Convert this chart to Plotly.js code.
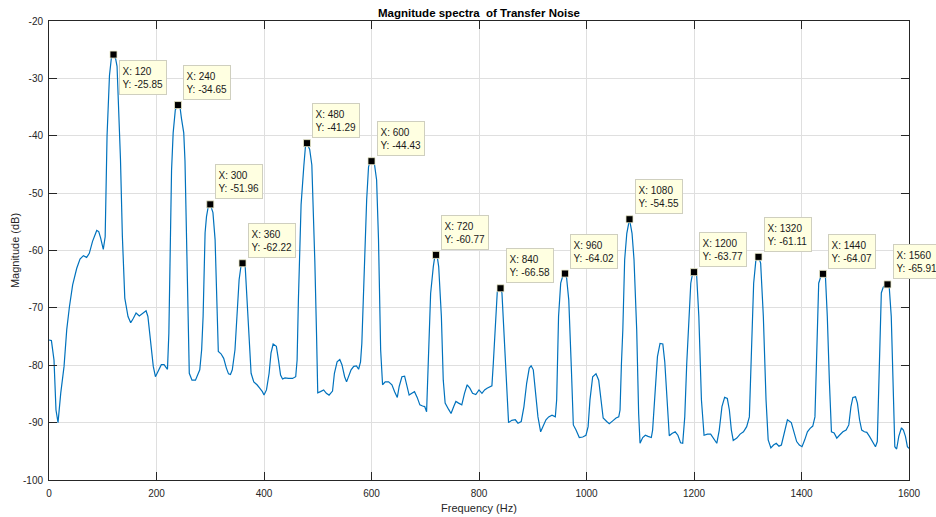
<!DOCTYPE html>
<html>
<head>
<meta charset="utf-8">
<script src="https://cdn.plot.ly/plotly-3.0.1.min.js"></script>
<style>html,body{margin:0;padding:0;background:#fff;}#chart{width:936px;height:517px;}</style>
</head>
<body>
<div id="chart"></div>
<script>
// Spectrum trace (frequency in Hz, magnitude in dB)
const freq = [0,4.5,9.3,13,16.8,21.8,28,33,38,44,51.6,57.7,64,70,75,81,88.8,92.5,96,101,104.5,108,112.5,116,120,124,126.6,129,133,136.5,141,147,152,157,162,168,175.7,180.6,184,189,194,198,203,209,214,220.4,223,226,228,231,235,240,244,246.5,250.7,253,255.5,258.7,261,266,272.5,280.5,284,286.7,289,290.4,293,296,300,305,309,312.7,315,320,325,330,334,337.6,341,346,350,353.7,357,360,365,368.6,372,376,381,387,392,397,400,404.6,409.5,413,417,423,427,430.8,434.5,439,445.6,453,459,461.6,464,466.7,469,474,477,480,485,489,492.7,494.6,497.7,500,505,511,516,521,527.5,531,536,541,545,550,553.6,557,562,567,572,576,579.6,582,584.6,588,591,594.5,597,600,603,605.7,609.5,613,614.5,617,620.6,625.5,631.8,638,643,648,651.5,656.6,661.6,665,670,675,680,685,690,695,699,702.5,705,707.4,710,715,717.5,720,722.5,725,730,733.5,737,743.5,748,753,757,762,768,773,778,783,788,794,800,805.5,810.4,815,820,824,826.6,830,834,837,840,842.7,846.4,851.5,855,861,867.5,872.5,878.6,883.6,888.7,893.5,897,901,904.7,909.7,914.7,919.6,924.6,929.6,935.8,942,944.5,948,952,956,960,963,967,971.7,975.5,980.5,986.6,993,999,1003,1006.5,1011.5,1017.7,1022.7,1026.4,1031,1037.6,1042.4,1048.8,1055,1060,1062.4,1065,1067.6,1071,1075,1080,1084.7,1088.4,1093.4,1097,1099.6,1104.6,1109.5,1114.5,1120.6,1123,1127,1132,1136.8,1142,1145.6,1149,1154,1159,1165,1170,1175,1179,1182.8,1186.5,1190,1194,1197,1200,1203,1205,1209,1213.8,1218.7,1225,1231,1237.4,1242.4,1247,1252,1257,1262,1265.8,1269.5,1273,1279.6,1285.8,1292,1298,1303,1307,1311,1315,1320,1324,1329,1334,1338,1343,1348,1353,1358,1362.6,1367.6,1373.8,1381,1386,1391,1396,1401,1406,1411,1416,1421,1425,1428.5,1432,1436,1440,1444.5,1448,1452,1455.7,1460.7,1465.7,1470.6,1477,1483,1488,1492,1495.6,1500.5,1504,1508,1512,1517,1521.5,1526.5,1533,1537.6,1541,1545,1548.5,1552,1556,1560,1563.4,1567,1571,1573.6,1577,1581,1586,1589.6,1593.4,1597,1600];
const mag = [-75.6,-75.7,-79.1,-87.8,-90.0,-84.9,-80.2,-73.8,-69.8,-66.0,-63.1,-61.5,-60.9,-61.2,-60.5,-58.4,-56.5,-56.7,-57.8,-59.8,-57.6,-40,-29.5,-26.5,-25.85,-26.6,-27.9,-33.7,-44.2,-57.5,-68.3,-71.5,-72.6,-71.8,-70.9,-71.4,-70.9,-70.5,-71.5,-75.6,-80.2,-82.0,-81.1,-79.9,-79.9,-80.7,-74.4,-60,-46,-39.5,-35.5,-34.65,-35.2,-37,-39.5,-44.4,-55,-68.6,-81.4,-82.6,-82.6,-80.8,-77.3,-71.5,-62.8,-56.9,-54.1,-52.5,-51.96,-53.4,-58.1,-68.6,-77.6,-78.0,-78.8,-80.5,-81.5,-81.6,-80.8,-77.3,-71.5,-65.1,-62.8,-62.22,-62.8,-68.6,-76.2,-81.4,-82.9,-83.4,-84.0,-84.6,-85.2,-84.3,-81.4,-77.9,-76.3,-76.7,-79.1,-81.7,-82.4,-82.2,-82.3,-82.3,-82.0,-79.1,-68.6,-59.9,-52,-45.4,-42,-41.29,-42.4,-45.1,-55,-62,-74.4,-84.8,-84.6,-84.3,-84.9,-85.2,-84.5,-81.4,-79.4,-79.0,-79.9,-82.0,-82.9,-82.0,-80.8,-80.2,-80.1,-80.7,-79.4,-76.2,-68.6,-60.5,-51.2,-45.4,-44.6,-44.43,-44.6,-45.1,-47.7,-58,-68.6,-77.3,-83.4,-82.9,-82.9,-83.4,-84.6,-85.6,-83.7,-82.0,-81.9,-83.1,-85.2,-84.9,-84.6,-85.6,-86.9,-87.1,-87.2,-88.1,-80.2,-71.5,-67.5,-62.8,-61.2,-60.77,-61.2,-62.8,-71.5,-82.6,-86.6,-87.7,-88.4,-87.2,-86.3,-86.6,-86.9,-84.9,-83.4,-84.0,-84.9,-85.1,-84.3,-84.9,-84.3,-84.0,-83.7,-83.6,-79.7,-72.7,-67.2,-66.7,-66.58,-67.4,-74.4,-83.1,-90.0,-89.6,-89.5,-90.1,-89.8,-87.2,-83.1,-80.5,-80.1,-80.8,-84.3,-89.0,-91.6,-90.7,-89.5,-89.0,-88.7,-89.0,-86.0,-71.5,-65.7,-64.4,-64.02,-64.8,-68.6,-80.2,-90.4,-91.3,-92.6,-92.5,-92.2,-90.7,-86.0,-82.0,-81.5,-82.6,-86.0,-89.2,-89.8,-90.2,-89.7,-89.2,-89.0,-87.8,-79.7,-73.8,-61.6,-57.0,-54.55,-57.0,-61.6,-73.8,-88.4,-93.6,-92.6,-92.2,-92.4,-92.6,-91.3,-85.5,-78.5,-76.2,-76.3,-79.4,-85.5,-92.3,-91.9,-91.6,-92.2,-93.5,-93.6,-89.0,-79.7,-73.8,-65.7,-64.2,-63.77,-64.1,-64.5,-71.5,-86.0,-92.2,-92.0,-92.0,-93.0,-93.6,-91.3,-87.2,-85.6,-85.8,-87.8,-91.3,-93.1,-92.7,-92.0,-91.6,-90.7,-89.0,-77.3,-65.7,-61.8,-61.11,-62.2,-71.5,-86.0,-93.0,-94.4,-93.9,-93.6,-94.1,-93.9,-91.9,-89.5,-90.0,-91.6,-93.3,-93.9,-94.2,-93.0,-91.6,-91.0,-90.6,-89.0,-77.3,-65.7,-64.5,-64.07,-64.5,-71.5,-83.1,-91.6,-91.8,-92.7,-92.2,-91.6,-91.3,-90.4,-87.2,-85.6,-85.5,-86.6,-89.5,-91.3,-91.6,-91.7,-92.4,-93.6,-94.2,-93.3,-77.3,-67.4,-66.4,-66.0,-65.91,-66.6,-71.5,-83.1,-94.2,-94.6,-92.4,-90.9,-91.3,-92.4,-94.2,-94.5];

// Data tips
const tipX = [120,240,300,360,480,600,720,840,960,1080,1200,1320,1440,1560];
const tipY = [-25.85,-34.65,-51.96,-62.22,-41.29,-44.43,-60.77,-66.58,-64.02,-54.55,-63.77,-61.11,-64.07,-65.91];

// Axis ticks
const xTicks = [0,200,400,600,800,1000,1200,1400,1600];
const yTicks = [-100,-90,-80,-70,-60,-50,-40,-30,-20];

const FONT = 'Liberation Sans, Arial, Helvetica, sans-serif';
const AX = '#262626';

const traces = [
  {x: freq, y: mag, type: 'scatter', mode: 'lines',
   line: {color: '#0072BD', width: 1.2}, hoverinfo: 'skip'},
  {x: tipX, y: tipY, type: 'scatter', mode: 'markers',
   marker: {symbol: 'square', size: 7, color: '#000', line: {color: '#e8e8c8', width: 0.8}},
   hoverinfo: 'skip', cliponaxis: false}
];

const annotations = tipX.map((xv, i) => {
  const below = (i === 0);
  return {
    x: xv, y: tipY[i], xref: 'x', yref: 'y',
    text: 'X: ' + xv + '<br>Y: ' + tipY[i].toFixed(2),
    showarrow: false, align: 'left', valign: 'middle',
    width: 41, height: 28,
    xanchor: 'left', yanchor: below ? 'top' : 'bottom',
    xshift: 5, yshift: below ? -5 : 5,
    bgcolor: '#ffffe1', bordercolor: '#cfcfbf', borderwidth: 1, borderpad: 2.5,
    font: {family: FONT, size: 10, color: '#1a1a1a'}
  };
});

const axisCommon = {
  showline: true, linecolor: AX, linewidth: 1, mirror: 'ticks',
  ticks: 'inside', ticklen: 8, tickwidth: 1, tickcolor: AX,
  showgrid: true, gridcolor: '#dfdfdf', gridwidth: 1,
  zeroline: false, tickfont: {family: FONT, size: 10, color: AX}
};

const layout = {
  width: 936, height: 517,
  margin: {l: 49, r: 27, t: 21, b: 37, pad: 0},
  paper_bgcolor: '#fff', plot_bgcolor: '#fff',
  showlegend: false,
  title: {text: '<b>Magnitude spectra\u00a0 of Transfer Noise</b>',
          font: {family: FONT, size: 11.5, color: '#000'},
          xref: 'paper', x: 0.5, xanchor: 'center',
          yref: 'container', y: 1 - 12.7/517, yanchor: 'middle'},
  xaxis: Object.assign({}, axisCommon, {
    range: [0, 1600], tickmode: 'array', tickvals: xTicks, ticktext: xTicks.map(String),
    ticklabelstandoff: 4,
    title: {text: 'Frequency (Hz)', font: {family: FONT, size: 11, color: AX}, standoff: 6}
  }),
  yaxis: Object.assign({}, axisCommon, {
    range: [-100, -20], tickmode: 'array', tickvals: yTicks, ticktext: yTicks.map(String),
    ticklabelstandoff: 3,
    title: {text: 'Magnitude (dB)', font: {family: FONT, size: 11, color: AX}, standoff: 1}
  }),
  annotations: annotations
};

Plotly.newPlot('chart', traces, layout, {staticPlot: true, displayModeBar: false});
</script>
</body>
</html>
